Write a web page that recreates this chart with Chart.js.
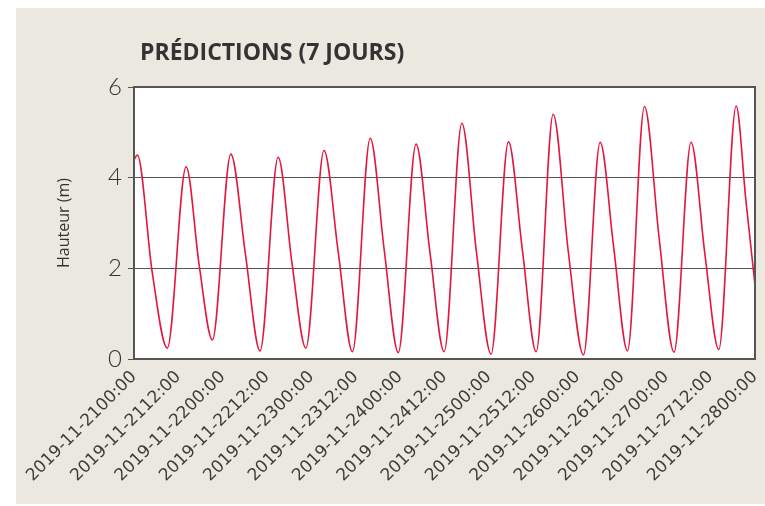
<!DOCTYPE html>
<html>
<head>
<meta charset="utf-8">
<script src="https://cdn.jsdelivr.net/npm/chart.js@4.4.1/dist/chart.umd.min.js"></script>
<style>
  html, body { margin: 0; padding: 0; background: #ffffff; }
  #wrap { width: 765px; height: 506px; position: relative; }
</style>
</head>
<body>
<div id="wrap"><canvas id="c" width="765" height="506"></canvas></div>
<script>
// ---- Data ----
const chartTitle = "PRÉDICTIONS (7 JOURS)";
const yAxisTitle = "Hauteur (m)";
const xTickLabels = [
  "2019-11-2100:00", "2019-11-2112:00", "2019-11-2200:00", "2019-11-2212:00",
  "2019-11-2300:00", "2019-11-2312:00", "2019-11-2400:00", "2019-11-2412:00",
  "2019-11-2500:00", "2019-11-2512:00", "2019-11-2600:00", "2019-11-2612:00",
  "2019-11-2700:00", "2019-11-2712:00", "2019-11-2800:00"
];
// hours since 2019-11-21 00:00 (high water, mid-ebb, low water)
const hoursFromStart = [
  0, 0.9, 4.95, 9.0,
  14.1, 17.65, 21.2,
  26.2, 30.15, 34.1,
  39.0, 42.75, 46.5,
  51.4, 55.25, 59.1,
  63.9, 67.7, 71.5,
  76.3, 80.1, 83.9,
  88.7, 92.65, 96.6,
  101.3, 105.05, 108.8,
  113.4, 117.5, 121.6,
  126.1, 129.8, 133.5,
  138.1, 142.1, 146.1,
  150.7, 154.45, 158.2,
  162.9, 165.5, 168
];
// water height (m)
const heightsM = [
  4.39, 4.50, 1.90, 0.24,
  4.24, 2.06, 0.42,
  4.52, 2.31, 0.18,
  4.45, 2.11, 0.24,
  4.60, 2.36, 0.16,
  4.87, 2.40, 0.14,
  4.74, 2.33, 0.16,
  5.20, 2.35, 0.11,
  4.79, 2.42, 0.16,
  5.40, 2.36, 0.09,
  4.78, 2.44, 0.18,
  5.57, 2.64, 0.15,
  4.78, 2.31, 0.21,
  5.58, 3.53, 1.63
];

const points = hoursFromStart.map((h, i) => ({ x: h, y: heightsM[i] }));

const COLORS = {
  panel: '#ebe9df',
  plot: '#ffffff',
  axis: '#555555',
  text: '#333333',
  line: '#e3173e'
};

const decorPlugin = {
  id: 'decor',
  beforeDraw(chart) {
    const { ctx, chartArea } = chart;
    ctx.save();
    ctx.fillStyle = COLORS.panel;
    ctx.fillRect(16, 8, 765 - 16, 504 - 8);
    ctx.fillStyle = COLORS.plot;
    ctx.fillRect(chartArea.left, chartArea.top, chartArea.right - chartArea.left, chartArea.bottom - chartArea.top);
    ctx.restore();
  },
  afterDraw(chart) {
    const { ctx, chartArea } = chart;
    ctx.save();
    ctx.strokeStyle = COLORS.axis;
    ctx.lineWidth = 2;
    ctx.strokeRect(chartArea.left, chartArea.top, chartArea.right - chartArea.left, chartArea.bottom - chartArea.top);
    // title
    ctx.fillStyle = COLORS.text;
    ctx.font = 'bold 23px "Open Sans"';
    ctx.textBaseline = 'alphabetic';
    ctx.textAlign = 'left';
    const w = ctx.measureText(chartTitle).width;
    const target = 293;
    ctx.translate(140, 60);
    if (w > target) ctx.scale(target / w, 1);
    ctx.fillText(chartTitle, 0, 0);
    ctx.restore();
  }
};

new Chart(document.getElementById('c'), {
  type: 'line',
  data: {
    datasets: [{
      data: points,
      borderColor: COLORS.line,
      borderWidth: 1.6,
      pointRadius: 0,
      fill: false,
      cubicInterpolationMode: 'monotone'
    }]
  },
  options: {
    responsive: false,
    animation: false,
    devicePixelRatio: 1,
    layout: { padding: { left: 16, top: 87, right: 10, bottom: 0 } },
    plugins: { legend: { display: false }, tooltip: { enabled: false }, title: { display: false } },
    scales: {
      x: {
        type: 'linear',
        min: 0,
        max: 168,
        afterFit(scale) { scale.height = 506 - 359; scale.paddingLeft = 0; scale.paddingRight = 0; },
        afterBuildTicks(scale) {
          scale.ticks = xTickLabels.map((_, i) => ({ value: i * 12 }));
        },
        grid: { display: false, drawTicks: false },
        border: { display: true, color: COLORS.axis, width: 2 },
        ticks: {
          autoSkip: false,
          minRotation: 45,
          maxRotation: 45,
          padding: 8,
          color: '#3c3c3c',
          font: { family: '"DejaVu Sans"', size: 17 },
          callback: (v) => xTickLabels[Math.round(v / 12)]
        }
      },
      y: {
        min: 0,
        max: 6,
        afterFit(scale) { scale.width = 134 - 16; scale.paddingTop = 0; scale.paddingBottom = 0; },
        grid: { color: COLORS.axis, lineWidth: 1, tickLength: 6, tickColor: COLORS.axis, drawTicks: true },
        border: { display: true, color: COLORS.axis, width: 2 },
        ticks: {
          stepSize: 2,
          padding: 6,
          color: COLORS.text,
          font: { family: 'Lato', size: 24, weight: '300' }
        },
        title: {
          display: true,
          text: yAxisTitle,
          color: COLORS.text,
          font: { family: '"Open Sans"', size: 16 },
          padding: { top: 39, bottom: 0 }
        }
      }
    }
  },
  plugins: [decorPlugin]
});
</script>
</body>
</html>
